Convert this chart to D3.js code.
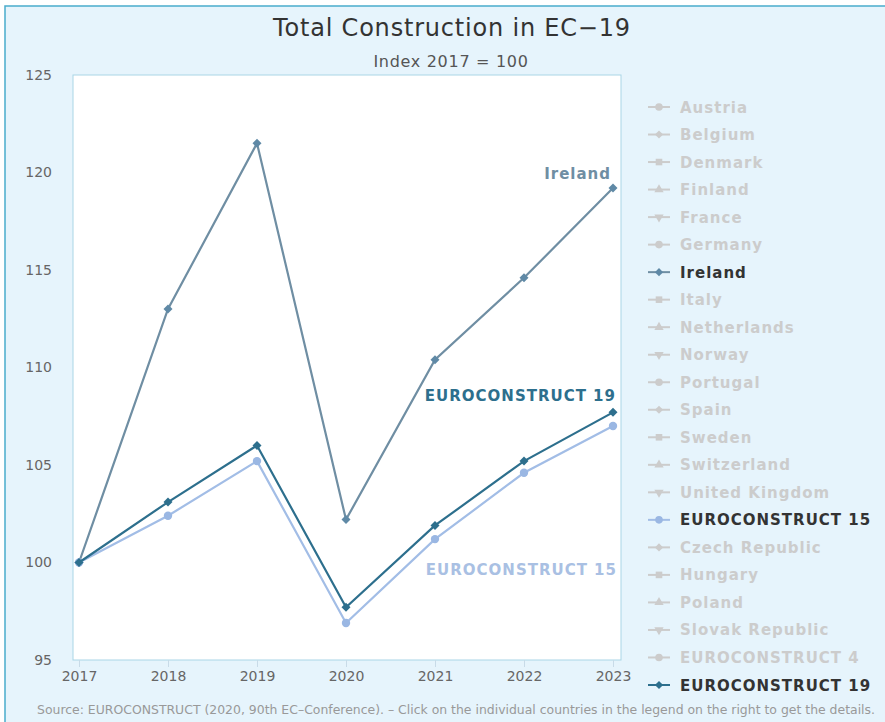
<!DOCTYPE html>
<html>
<head>
<meta charset="utf-8">
<script src="https://d3js.org/d3.v7.min.js"></script>
<style>
  body { margin: 0; background: #fff; }
  svg { display: block; font-family: "DejaVu Sans", Verdana, sans-serif; }
</style>
</head>
<body>
<script>
// data
const years = [2017, 2018, 2019, 2020, 2021, 2022, 2023];
const ireland = [100, 113.0, 121.5, 102.2, 110.4, 114.6, 119.2];
const ec15 = [100, 102.4, 105.2, 96.9, 101.2, 104.6, 107.0];
const ec19 = [100, 103.1, 106.0, 97.7, 101.9, 105.2, 107.7];
const yTicks = [95, 100, 105, 110, 115, 120, 125];
const legendNames = ["Austria", "Belgium", "Denmark", "Finland", "France", "Germany", "Ireland",
  "Italy", "Netherlands", "Norway", "Portugal", "Spain", "Sweden", "Switzerland", "United Kingdom",
  "EUROCONSTRUCT 15", "Czech Republic", "Hungary", "Poland", "Slovak Republic", "EUROCONSTRUCT 4",
  "EUROCONSTRUCT 19"];
const shapes = ["circle", "diamond", "square", "triangle", "down"];

const series = [
  { name: "Ireland", values: ireland, color: "#6f8ea3", marker: "#5f89a6", shape: "diamond", labelColor: "#6f8ea3" },
  { name: "EUROCONSTRUCT 15", values: ec15, color: "#a2bde6", marker: "#9ab7e3", shape: "circle", labelColor: "#a9c0e3" },
  { name: "EUROCONSTRUCT 19", values: ec19, color: "#2d6f8d", marker: "#2d6f8d", shape: "diamond", labelColor: "#2d6f8d" }
];

const W = 885, H = 722;
const plot = { left: 73, right: 621, top: 75, bottom: 660 };

// marker helper: highcharts-like shapes
function marker(sel, shape, cx, cy, fill, r) {
  let p;
  if (shape === "circle") {
    p = sel.append("circle").attr("cx", cx).attr("cy", cy).attr("r", r);
  } else if (shape === "diamond") {
    p = sel.append("path").attr("d", d3.symbol().type(d3.symbolSquare).size(r * r * 2.3))
      .attr("transform", `translate(${cx},${cy}) rotate(45)`);
  } else if (shape === "square") {
    p = sel.append("path").attr("d", d3.symbol().type(d3.symbolSquare).size(r * r * 3))
      .attr("transform", `translate(${cx},${cy})`);
  } else {
    p = sel.append("path").attr("d", d3.symbol().type(d3.symbolTriangle).size(r * r * 2.6))
      .attr("transform", `translate(${cx},${cy})` + (shape === "down" ? " rotate(180)" : ""));
  }
  return p.attr("fill", fill);
}

const svg = d3.select("body").append("svg").attr("width", W).attr("height", H);

// background + frame
svg.append("rect").attr("x", 5).attr("y", 6).attr("width", W + 20).attr("height", H + 20)
  .attr("fill", "#e6f4fc").attr("stroke", "#4aaccb").attr("stroke-width", 1.5);

svg.append("text").attr("x", 452).attr("y", 36).attr("text-anchor", "middle")
  .attr("font-size", 24).attr("letter-spacing", 0.8).attr("fill", "#333").text("Total Construction in EC\u221219");
svg.append("text").attr("x", 451).attr("y", 67).attr("text-anchor", "middle")
  .attr("font-size", 16).attr("letter-spacing", 0.7).attr("fill", "#555").text("Index 2017 = 100");

svg.append("rect").attr("x", plot.left).attr("y", plot.top)
  .attr("width", plot.right - plot.left).attr("height", plot.bottom - plot.top)
  .attr("fill", "#fff").attr("stroke", "#a9d5e6").attr("stroke-width", 1);

const x = d3.scalePoint().domain(years).range([79, 613]);
const y = d3.scaleLinear().domain([95, 125]).range([plot.bottom, plot.top]);

// y axis labels
const yAxis = svg.append("g").attr("transform", `translate(${plot.left},0)`)
  .call(d3.axisLeft(y).tickValues(yTicks).tickSize(0).tickPadding(21));
yAxis.select(".domain").remove();
yAxis.selectAll("text").attr("font-size", 14).attr("fill", "#666").attr("font-family", "DejaVu Sans");

// x axis
const xAxis = svg.append("g").attr("transform", `translate(0,${plot.bottom})`)
  .call(d3.axisBottom(x).tickSize(7).tickPadding(4).tickFormat(d3.format("d")));
xAxis.select(".domain").remove();
xAxis.selectAll("line").attr("stroke", "#c8dbe8");
xAxis.selectAll("text").attr("font-size", 14).attr("fill", "#666").attr("font-family", "DejaVu Sans");

const line = d3.line().x((d, i) => x(years[i])).y(d => y(d));

series.forEach(s => {
  svg.append("path").datum(s.values).attr("d", line)
    .attr("fill", "none").attr("stroke", s.color).attr("stroke-width", 2.2);
  const g = svg.append("g");
  s.values.forEach((v, i) => marker(g, s.shape, x(years[i]), y(v), s.marker, 4.2));
});

// series labels
function seriesLabel(xp, yp, txt, color) {
  svg.append("text").attr("x", xp).attr("y", yp).attr("text-anchor", "end")
    .attr("font-size", 15).attr("letter-spacing", 1).attr("font-weight", "bold")
    .attr("fill", color).text(txt);
}
seriesLabel(611, y(ireland[6]) - 9, "Ireland", series[0].labelColor);
seriesLabel(616, y(ec19[6]) - 11, "EUROCONSTRUCT 19", series[2].labelColor);
seriesLabel(617, y(ec15[3]) - 48, "EUROCONSTRUCT 15", series[1].labelColor);

// legend
const active = { "Ireland": series[0], "EUROCONSTRUCT 15": series[1], "EUROCONSTRUCT 19": series[2] };
const ly = d3.scalePoint().domain(legendNames).range([107, 685]);
legendNames.forEach((name, i) => {
  const g = svg.append("g").attr("transform", `translate(0,${ly(name)})`);
  const s = active[name];
  const c = s ? s.color : "#cccccc";
  g.append("line").attr("x1", 648).attr("x2", 670).attr("y1", 0).attr("y2", 0)
    .attr("stroke", c).attr("stroke-width", 2);
  marker(g, shapes[i % 5], 659, 0, s ? s.marker : "#cccccc", 3.8);
  g.append("text").attr("x", 680).attr("y", 5.5).attr("font-size", 15).attr("letter-spacing", 1)
    .attr("font-weight", "bold").attr("fill", s ? "#333" : "#cccccc").text(name);
});

svg.append("text").attr("x", 37).attr("y", 714).attr("font-size", 12.5).attr("fill", "#999")
  .attr("textLength", 838).attr("lengthAdjust", "spacingAndGlyphs")
  .text("Source: EUROCONSTRUCT (2020, 90th EC\u2013Conference). \u2013 Click on the individual countries in the legend on the right to get the details.");
</script>
</body>
</html>
